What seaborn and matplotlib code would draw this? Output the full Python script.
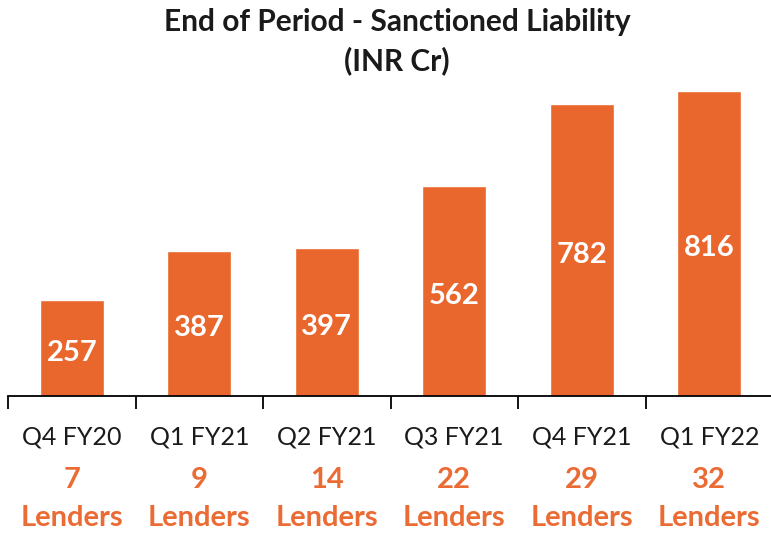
import matplotlib
matplotlib.use("Agg")
import matplotlib.pyplot as plt
import seaborn as sns
import pandas as pd
import numpy as np

quarters = ["Q4 FY20", "Q1 FY21", "Q2 FY21", "Q3 FY21", "Q4 FY21", "Q1 FY22"]
liability = [257, 387, 397, 562, 782, 816]
lenders = [7, 9, 14, 22, 29, 32]

sns.set_theme(style="white")
plt.rcParams['font.family'] = ['Lato', 'DejaVu Sans']

BAR = "#E9672D"
TXT = "#EB6B34"

fig = plt.figure(figsize=(7.71, 5.33), dpi=100)
W, H = 771, 533
ax = fig.add_axes([8 / W, (H - 396) / H, (773 - 8) / W, (396 - 59.5) / H])

df = pd.DataFrame({"q": quarters, "v": liability})
sns.barplot(data=df, x="q", y="v", color=BAR, saturation=1, width=0.5, ax=ax)

ax.set_ylim(0, 900)
ax.set_xlim(-0.5, len(quarters) - 0.5)
ax.set_xlabel("")
ax.set_ylabel("")
ax.set_yticks([])
for s in ["top", "right", "left"]:
    ax.spines[s].set_visible(False)
ax.spines["bottom"].set_color("black")
ax.spines["bottom"].set_linewidth(1.3)

ax.set_xticks(range(len(quarters)))
ax.set_xticklabels(quarters, fontsize=18, color="#1a1a1a")
ax.tick_params(axis="x", which="major", length=0, pad=21)
ax.set_xticks(np.arange(-0.5, len(quarters)), minor=True)
ax.tick_params(axis="x", which="minor", bottom=True, length=9, width=1.3,
               color="black", direction="out")

for i, v in enumerate(liability):
    ax.text(i, v / 2 - 6, str(v), ha="center", va="center_baseline", color="white",
            fontsize=21, fontweight="bold")

tr = ax.get_xaxis_transform()
for i, n in enumerate(lenders):
    ax.text(i, -82 / 336.5, str(n), transform=tr, ha="center", va="center_baseline",
            color=TXT, fontsize=21, fontweight="bold")
    ax.text(i, -119 / 336.5, "Lenders", transform=tr, ha="center", va="center_baseline",
            color=TXT, fontsize=21, fontweight="bold")

fig.text(397 / W, 1 - 20 / H, "End of Period - Sanctioned Liability", ha="center",
         va="center_baseline", fontsize=21.5, fontweight="bold", color="#1a1a1a")
fig.text(397 / W, 1 - 58 / H, "(INR Cr)", ha="center", va="center_baseline",
         fontsize=21.5, fontweight="bold", color="#1a1a1a")

fig.savefig("out.png", dpi=100)
